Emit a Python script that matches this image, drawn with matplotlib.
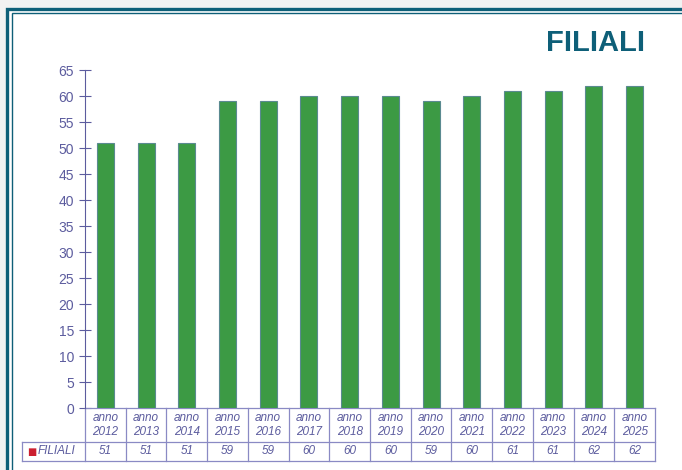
import matplotlib.pyplot as plt
from matplotlib.patches import Rectangle
from matplotlib.lines import Line2D
import matplotlib.transforms as mtransforms

plt.rcParams['font.family'] = ['Liberation Sans', 'DejaVu Sans']

years = ["2012", "2013", "2014", "2015", "2016", "2017", "2018",
         "2019", "2020", "2021", "2022", "2023", "2024", "2025"]
filiali = [51, 51, 51, 59, 59, 60, 60, 60, 59, 60, 61, 61, 62, 62]
yticks = list(range(0, 70, 5))

W, H = 682, 470
axis_col = "#5c5c9e"
grid_col = "#8a8ac4"
frame_col = "#0e5f78"

fig = plt.figure(figsize=(W / 100, H / 100), dpi=100)
fig.patch.set_facecolor("#f2f2f2")

def px(x, y):
    return x / W, 1 - y / H

# white panel + double frame
fig.add_artist(Rectangle(px(6, 480), (690 - 6) / W, (480 - 8) / H,
                         transform=fig.transFigure, facecolor="white",
                         edgecolor="none", zorder=0))
fig.add_artist(Rectangle(px(7, 480), (700 - 7) / W, (480 - 9) / H,
                         transform=fig.transFigure, facecolor="none",
                         edgecolor=frame_col, lw=2.4, zorder=1))
fig.add_artist(Rectangle(px(12, 480), (700 - 12) / W, (480 - 13) / H,
                         transform=fig.transFigure, facecolor="none",
                         edgecolor=frame_col, lw=1.0, zorder=1))

fig.text(645 / W, 1 - 43 / H, "FILIALI", ha="right", va="center",
         fontsize=21, fontweight="bold", color=frame_col,
         family=["Liberation Sans Narrow", "Liberation Sans", "DejaVu Sans"])

left, right, top, bottom = 85, 655, 70, 408
ax = fig.add_axes([left / W, 1 - bottom / H, (right - left) / W, (bottom - top) / H])
ax.patch.set_alpha(0)

x = list(range(len(years)))
ax.bar(x, filiali, width=0.42, color="#3c9a44", edgecolor="#5a8a90", linewidth=0.8, zorder=3)

ax.set_xlim(-0.5, len(years) - 0.5)
ax.set_ylim(0, 65)
ax.set_yticks(yticks)
ax.set_xticks([])
for s in ["top", "right", "bottom"]:
    ax.spines[s].set_visible(False)
ax.spines["left"].set_color(axis_col)
ax.tick_params(axis="y", direction="inout", length=8, color=axis_col,
               labelcolor=axis_col, labelsize=10, pad=4)

# data table below the axis
trans = mtransforms.blended_transform_factory(ax.transData, ax.transAxes)
h = bottom - top
y0 = 0
y1 = -34 / h
y2 = -53 / h
lab_x = -0.5 - 63 / ((right - left) / len(years))

def hline(xa, xb, y):
    ax.add_line(Line2D([xa, xb], [y, y], transform=trans, color=grid_col,
                       lw=0.9, clip_on=False))

def vline(xx, ya, yb):
    ax.add_line(Line2D([xx, xx], [ya, yb], transform=trans, color=grid_col,
                       lw=0.9, clip_on=False))

hline(-0.5, len(years) - 0.5, y0)
hline(lab_x, len(years) - 0.5, y1)
hline(lab_x, len(years) - 0.5, y2)
for i in range(len(years) + 1):
    vline(i - 0.5, y0, y2)
vline(lab_x, y1, y2)

for i, (yr, v) in enumerate(zip(years, filiali)):
    ax.text(i, (y0 + y1) / 2, "anno\n" + yr, transform=trans, ha="center",
            va="center", fontsize=8.5, style="italic", color=axis_col,
            linespacing=1.2)
    ax.text(i, (y1 + y2) / 2, str(v), transform=trans, ha="center",
            va="center", fontsize=8.5, style="italic", color=axis_col)

ax.text(lab_x + 0.12, (y1 + y2) / 2, "■", transform=trans, ha="left",
        va="center", fontsize=7, color="#cc2030",
        family=["DejaVu Sans"])
ax.text(lab_x + 0.38, (y1 + y2) / 2, "FILIALI", transform=trans, ha="left",
        va="center", fontsize=8.5, style="italic", color=axis_col)

fig.savefig("out.png", dpi=100)
